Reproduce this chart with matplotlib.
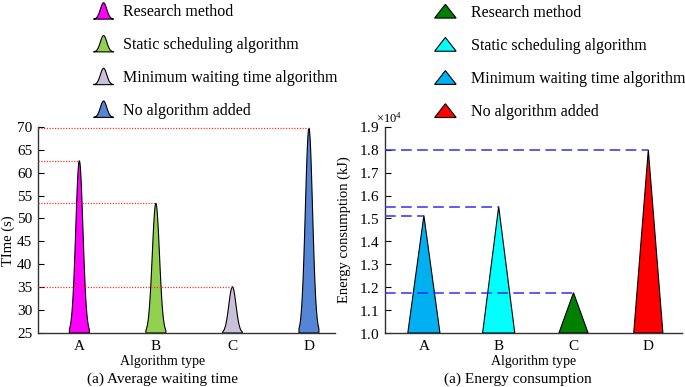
import numpy as np
import matplotlib.pyplot as plt
from matplotlib.patches import Polygon, Patch
from matplotlib.legend_handler import HandlerPatch
from matplotlib.ticker import ScalarFormatter, MultipleLocator

plt.rcParams['font.family'] = ['Liberation Serif', 'DejaVu Serif']
plt.rcParams['mathtext.fontset'] = 'custom'
plt.rcParams['mathtext.rm'] = 'Liberation Serif'

algos = ["A", "B", "C", "D"]
methods = ["Research method", "Static scheduling algorithm",
           "Minimum waiting time algorithm", "No algorithm added"]

wait_time = [62.6, 53.3, 35.1, 69.7]       # s
energy = [15130, 15520, 11760, 18000]      # kJ

wait_colors = ["#ff00ff", "#92d050", "#c9c1d9", "#5585d5"]
energy_colors = ["#00b0f0", "#00ffff", "#008000", "#ff0000"]
# legend on the right panel lists the colours in another order
energy_legend_colors = ["#008000", "#00ffff", "#00b0f0", "#ff0000"]


def spike_xy(xc, top, base, half=0.13, sigma=0.047):
    dx = np.linspace(-half, half, 121)
    y = base + (top - base) * np.exp(-dx**2 / (2 * sigma**2))
    xs = np.r_[xc + dx, xc + half, xc - half]
    ys = np.r_[y, base, base]
    return np.column_stack([xs, ys])


def spike_patch(legend, orig_handle, xdescent, ydescent, width, height, fontsize):
    t = np.linspace(-1, 1, 61)
    y = np.exp(-t**2 / (2 * 0.32**2))
    xs = np.r_[t, 1, -1]
    ys = np.r_[y, 0, 0]
    xy = np.column_stack([-xdescent + (xs + 1) / 2 * width,
                          -ydescent + ys * height])
    return Polygon(xy, closed=True)


def tri_patch(legend, orig_handle, xdescent, ydescent, width, height, fontsize):
    xy = [(-xdescent, -ydescent), (-xdescent + width, -ydescent),
          (-xdescent + width / 2, -ydescent + height)]
    return Polygon(xy, closed=True)


fig = plt.figure(figsize=(6.85, 3.87), dpi=100)
ax1 = fig.add_axes([0.0555, 0.1395, 0.4335, 0.5327])
ax2 = fig.add_axes([0.562, 0.1395, 0.4336, 0.5327])

x = np.arange(1, len(algos) + 1)

# ---- left: average waiting time
base1 = 25
xl1 = (0.46, 4.34)
for xi, v, c in zip(x, wait_time, wait_colors):
    ax1.add_patch(Polygon(spike_xy(xi, v, base1), closed=True, facecolor=c,
                          edgecolor="black", linewidth=0.8, zorder=2))
    ax1.hlines(v, xl1[0], xi, colors="#ff3030", linestyles=(0, (1, 1.2)),
               linewidth=0.9, zorder=3)
ax1.set_xlim(*xl1)
ax1.set_ylim(25, 70)
ax1.yaxis.set_major_locator(MultipleLocator(5))
ax1.set_xticks(x)
ax1.set_xticklabels(algos)
ax1.set_ylabel("TIme (s)", fontsize=10.5)
ax1.set_xlabel("Algorithm type", fontsize=10)
ax1.xaxis.set_label_coords(0.418, -0.108)
ax1.yaxis.set_label_coords(-0.078, 0.45)

# ---- right: energy consumption
base2 = 10000
xl2 = (0.48, 4.45)
half_w = [0.215, 0.215, 0.195, 0.195]
for xi, v, c, hw in zip(x, energy, energy_colors, half_w):
    ax2.add_patch(Polygon([(xi - hw, base2), (xi + hw, base2), (xi, v)], closed=True,
                          facecolor=c, edgecolor="black", linewidth=0.8, zorder=2))
    ax2.hlines(v, xl2[0], xi, colors="#3030e8", linestyles=(0, (7, 3.5)),
               linewidth=1.1, zorder=3)
ax2.set_xlim(*xl2)
ax2.set_ylim(10000, 19000)
ax2.yaxis.set_major_locator(MultipleLocator(1000))
fmt = ScalarFormatter(useMathText=True)
fmt.set_powerlimits((0, 0))
ax2.yaxis.set_major_formatter(fmt)
ax2.yaxis.get_offset_text().set_fontsize(9)
ax2.yaxis.get_offset_text().set_x(-0.03)
ax2.set_xticks(x)
ax2.set_xticklabels(algos)
ax2.set_ylabel("Energy consumption (kJ)", fontsize=10.5)
ax2.set_xlabel("Algorithm type", fontsize=10)
ax2.xaxis.set_label_coords(0.5, -0.108)
ax2.yaxis.set_label_coords(-0.115, 0.5)

for ax in (ax1, ax2):
    ax.spines["top"].set_visible(False)
    ax.spines["right"].set_visible(False)
    for s in ("left", "bottom"):
        ax.spines[s].set_color("#333333")
        ax.spines[s].set_linewidth(1.0)
    ax.tick_params(axis="y", direction="in", length=4, pad=4, labelsize=11)
    ax.tick_params(axis="x", length=0, pad=5, labelsize=11)

fig.text(0.2365, 0.019, "(a) Average waiting time", ha="center", va="center", fontsize=11)
fig.text(0.756, 0.019, "(a) Energy consumption", ha="center", va="center", fontsize=11)

# ---- legends
h1 = [Patch(facecolor=c, edgecolor="black", linewidth=0.8) for c in wait_colors]
fig.legend(h1, methods, loc="upper left", bbox_to_anchor=(92 / 685, 0.997),
           frameon=False, fontsize=11.5, handlelength=1.25, handleheight=1.2,
           handletextpad=0.6, labelspacing=0.95, borderpad=0.1, borderaxespad=0,
           handler_map={Patch: HandlerPatch(patch_func=spike_patch)})

h2 = [Patch(facecolor=c, edgecolor="black", linewidth=0.8) for c in energy_legend_colors]
fig.legend(h2, methods, loc="upper left", bbox_to_anchor=(433 / 685, 0.993),
           frameon=False, fontsize=11.5, handlelength=1.35, handleheight=0.95,
           handletextpad=0.95, labelspacing=1.05, borderpad=0.1, borderaxespad=0,
           handler_map={Patch: HandlerPatch(patch_func=tri_patch)})

fig.savefig("out.png", dpi=100)
